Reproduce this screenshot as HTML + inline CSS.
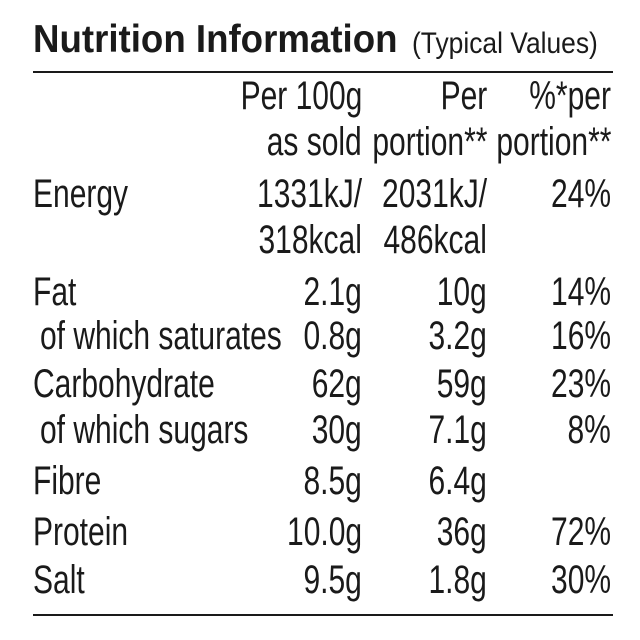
<!DOCTYPE html>
<html><head><meta charset="utf-8"><style>
body{margin:0;width:640px;height:640px;background:#fff;overflow:hidden;position:relative;font-family:"Liberation Sans",sans-serif;color:#1a1a1a}
.t{position:absolute;font-size:40px;line-height:40px;white-space:nowrap;transform:scaleX(0.75)}
.l{transform-origin:left top}
.r{transform-origin:right top;text-align:right}
.line{position:absolute;left:33px;width:580px;height:2px;background:#1a1a1a}
</style></head><body>
<div class="t l" style="left:33px;top:20px;font-size:39px;font-weight:bold;transform:scaleX(0.94)">Nutrition Information</div>
<div class="t l" style="left:412px;top:29px;font-size:30px;line-height:30px;transform:scaleX(0.88)">(Typical Values)</div>
<div class="line" style="top:71px"></div>
<div class="line" style="top:614px"></div>
<div id="rows"></div>
<script>
var rows=[
[112,"","Per 100g","Per","%*per"],
[158,"","as sold","portion**","portion**"],
[210,"Energy","1331kJ/","2031kJ/","24%"],
[256,"","318kcal","486kcal",""],
[308,"Fat","2.1g","10g","14%"],
[352," of which saturates","0.8g","3.2g","16%"],
[400,"Carbohydrate","62g","59g","23%"],
[446," of which sugars","30g","7.1g","8%"],
[497,"Fibre","8.5g","6.4g",""],
[548,"Protein","10.0g","36g","72%"],
[596,"Salt","9.5g","1.8g","30%"]];
var R=[362,487,611],h="";
rows.forEach(function(r){var top=r[0]-36;
if(r[1])h+='<div class="t l" style="left:'+(r[1][0]==" "?40:33)+'px;top:'+top+'px">'+r[1].trim()+'</div>';
for(var i=0;i<3;i++)if(r[i+2])h+='<div class="t r" style="right:'+(640-R[i])+'px;top:'+top+'px">'+r[i+2]+'</div>';});
document.getElementById("rows").innerHTML=h;
</script>
</body></html>
